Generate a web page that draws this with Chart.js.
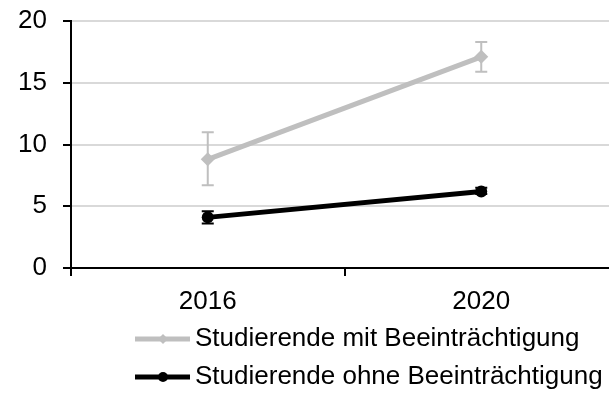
<!DOCTYPE html>
<html>
<head>
<meta charset="utf-8">
<script src="https://cdn.jsdelivr.net/npm/chart.js"></script>
<style>
  html, body { margin: 0; padding: 0; overflow: hidden; background: #fff; }
</style>
</head>
<body>
<canvas id="chart" width="625" height="402"></canvas>
<script>
// data
const years = ['2016', '2020'];
const seriesNames = ['Studierende mit Beeinträchtigung', 'Studierende ohne Beeinträchtigung'];
const mitValues = [8.8, 17.1];
const mitLow = [6.7, 15.9];
const mitHigh = [11.0, 18.3];
const ohneValues = [4.1, 6.2];
const ohneLow = [3.6, 6.0];
const ohneHigh = [4.6, 6.5];
const yTicks = [0, 5, 10, 15, 20];

const GRAY = '#bfbfbf';
const FONT = "'Liberation Sans', Arial, sans-serif";
const FONT_SIZE = 26;

const errLow = [mitLow, ohneLow];
const errHigh = [mitHigh, ohneHigh];

// whiskers drawn under the lines
const errorBars = {
  id: 'errorBars',
  beforeDatasetsDraw(chart) {
    const { ctx, scales: { x, y } } = chart;
    chart.data.datasets.forEach((ds, i) => {
      ctx.save();
      ctx.strokeStyle = ds.borderColor;
      ctx.lineWidth = 2;
      errLow[i].forEach((lo, j) => {
        const px = x.getPixelForValue(j);
        const top = y.getPixelForValue(errHigh[i][j]);
        const bot = y.getPixelForValue(lo);
        ctx.beginPath();
        ctx.moveTo(px, top); ctx.lineTo(px, bot);
        ctx.moveTo(px - 6, top); ctx.lineTo(px + 6, top);
        ctx.moveTo(px - 6, bot); ctx.lineTo(px + 6, bot);
        ctx.stroke();
      });
      ctx.restore();
    });
  }
};

// legend as two stacked rows under the axis
const rowLegend = {
  id: 'rowLegend',
  afterDraw(chart) {
    const { ctx } = chart;
    const rows = [339, 377];
    chart.data.datasets.forEach((ds, i) => {
      const yy = rows[i];
      ctx.save();
      ctx.strokeStyle = ds.borderColor;
      ctx.fillStyle = ds.borderColor;
      ctx.lineWidth = ds.borderWidth;
      ctx.beginPath();
      ctx.moveTo(135, yy); ctx.lineTo(190, yy);
      ctx.stroke();
      ctx.beginPath();
      if (ds.pointStyle === 'circle') {
        ctx.arc(163, yy, 5, 0, Math.PI * 2);
      } else {
        ctx.moveTo(163, yy - 5); ctx.lineTo(168, yy); ctx.lineTo(163, yy + 5); ctx.lineTo(158, yy);
        ctx.closePath();
      }
      ctx.fill();
      ctx.fillStyle = '#000';
      ctx.font = FONT_SIZE + 'px ' + FONT;
      ctx.textBaseline = 'middle';
      ctx.fillText(ds.label, 195, yy);
      ctx.restore();
    });
  }
};

new Chart(document.getElementById('chart'), {
  type: 'line',
  data: {
    labels: years,
    datasets: [
      {
        label: seriesNames[0],
        data: mitValues,
        borderColor: GRAY,
        backgroundColor: GRAY,
        borderWidth: 5,
        pointStyle: 'rectRot',
        pointRadius: 7,
        pointBorderWidth: 0
      },
      {
        label: seriesNames[1],
        data: ohneValues,
        borderColor: '#000',
        backgroundColor: '#000',
        borderWidth: 5,
        pointStyle: 'circle',
        pointRadius: 6,
        pointBorderWidth: 0
      }
    ]
  },
  options: {
    responsive: false,
    animation: false,
    devicePixelRatio: 1,
    layout: { padding: { top: 21, right: 4, left: 0, bottom: 0 } },
    plugins: {
      legend: { display: false },
      tooltip: { enabled: false }
    },
    scales: {
      x: {
        offset: true,
        grid: { offset: true, drawOnChartArea: false, tickLength: 8, color: '#000', lineWidth: 2 },
        border: { color: '#000', width: 2 },
        ticks: { color: '#000', font: { family: FONT, size: FONT_SIZE }, padding: 10 },
        afterFit(scale) { scale.height = 134; }
      },
      y: {
        min: 0,
        max: 20,
        afterBuildTicks(scale) { scale.ticks = yTicks.map(v => ({ value: v })); },
        grid: { color: '#d9d9d9', lineWidth: 2, tickColor: '#000', tickLength: 8 },
        border: { color: '#000', width: 2 },
        ticks: { color: '#000', font: { family: FONT, size: FONT_SIZE }, padding: 16 },
        afterFit(scale) {
          scale.width = 71;
          // labels may stick out above the area; the outer padding handles it
          scale.paddingTop = 0;
          scale.paddingBottom = 0;
        }
      }
    }
  },
  plugins: [errorBars, rowLegend]
});
</script>
</body>
</html>
